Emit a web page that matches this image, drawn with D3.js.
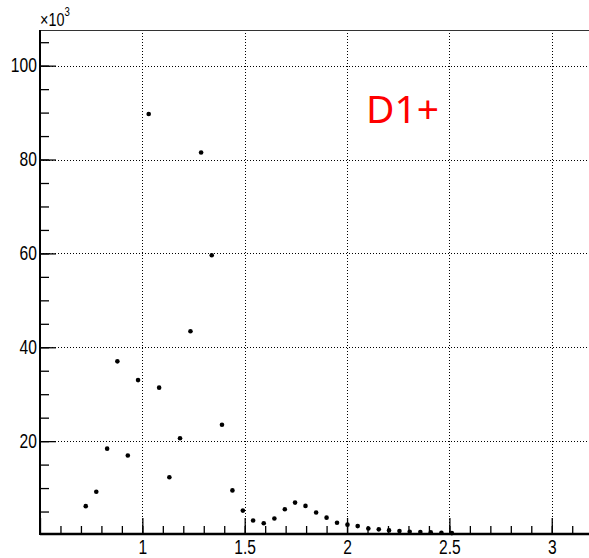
<!DOCTYPE html>
<html>
<head>
<meta charset="utf-8">
<script src="https://cdn.jsdelivr.net/npm/d3@7"></script>
<style>
body{margin:0;background:#fff;}
svg{display:block;}
</style>
</head>
<body>
<div id="char1" style="width:589px;height:558px;"></div>
<script>
// bin centres (x) and counts in units of 10^3 (y)
var datax=[0.7235,0.775,0.828,0.878,0.929,0.979,1.031,1.082,1.132,1.184,1.235,1.287,1.339,1.389,1.440,1.491,
           1.541,1.593,1.645,1.696,1.746,1.797,1.849,1.900,1.951,2.002,2.052,2.104,2.155,2.205,2.256,2.306,
           2.358,2.409,2.461,2.512];
var datay=[6.15,9.2,18.4,37.0,16.95,33.0,89.7,31.4,12.3,20.6,43.4,81.5,59.6,23.5,9.5,5.2,
           3.1,2.5,3.5,5.5,6.9,6.2,4.8,3.7,2.6,2.2,1.9,1.4,1.2,0.98,0.83,0.7,
           0.62,0.55,0.49,0.4];
var xticks=[0.5,1,1.5,2,2.5,3];
var yticks=[20,40,60,80,100];
var xminor=d3.range(6,32).map(function(d){return d/10;});
var yminor=d3.range(1,22).map(function(d){return d*5;});
var label="D1+";

var svgwidth=589, svgheight=558;
var mleft=40, mtop=30, mbottom=535;
var fnt="'Liberation Sans',Arial,sans-serif";

var svf=d3.select("#char1").append("svg")
          .attr("width",svgwidth)
          .attr("height",svgheight);

// x: 1 unit ~ 204.7px, axis starts at 0.5
var xscale=d3.scaleLinear().domain([0.5,3.2]).range([mleft,mleft+2.7*204.7]);
var yscale=d3.scaleLinear().domain([0,107.6]).range([mbottom,mtop]);

// grid
svf.append("g").selectAll("line").data(xticks.slice(1)).enter().append("line")
   .attr("x1",function(d){return Math.round(xscale(d))+0.5;})
   .attr("x2",function(d){return Math.round(xscale(d))+0.5;})
   .attr("y1",mtop).attr("y2",mbottom)
   .attr("stroke","#000").attr("stroke-dasharray","1,2");
svf.append("g").selectAll("line").data(yticks).enter().append("line")
   .attr("y1",function(d){return Math.round(yscale(d))+0.5;})
   .attr("y2",function(d){return Math.round(yscale(d))+0.5;})
   .attr("x1",mleft).attr("x2",svgwidth)
   .attr("stroke","#000").attr("stroke-dasharray","1,2");

// top frame
svf.append("line").attr("x1",mleft).attr("x2",svgwidth)
   .attr("y1",mtop+0.5).attr("y2",mtop+0.5)
   .attr("stroke","#333").attr("stroke-width",1);

// x axis
var xAxis=d3.axisBottom(xscale).tickValues(xticks).tickSize(-16).tickPadding(6)
            .tickFormat(function(d){return d===0.5?"":d3.format("")(d);});
var xMinor=d3.axisBottom(xscale).tickValues(xminor).tickSize(-8).tickFormat("");
var gx=svf.append("g").attr("transform","translate(0,"+(mbottom-1)+")").call(xAxis);
var gxm=svf.append("g").attr("transform","translate(0,"+(mbottom-1)+")").call(xMinor);

// y axis
var yAxis=d3.axisLeft(yscale).tickValues(yticks).tickSize(-16).tickPadding(4);
var yMinor=d3.axisLeft(yscale).tickValues(yminor).tickSize(-9).tickFormat("");
var gy=svf.append("g").attr("transform","translate("+mleft+",0)").call(yAxis);
var gym=svf.append("g").attr("transform","translate("+mleft+",0)").call(yMinor);

svf.selectAll(".domain").remove();
svf.append("line").attr("x1",mleft).attr("x2",svgwidth).attr("y1",mbottom-1).attr("y2",mbottom-1)
   .attr("stroke","#000").attr("stroke-width",2.5);
svf.append("line").attr("x1",mleft).attr("x2",mleft).attr("y1",mtop).attr("y2",mbottom)
   .attr("stroke","#000").attr("stroke-width",2);

svf.selectAll(".tick line").attr("stroke","#000").attr("stroke-width",1.3);
// labels are condensed horizontally in the original
svf.selectAll(".tick text")
   .style("font-family",fnt)
   .style("font-size","19.5px")
   .attr("transform","scale(0.8,1)")
   .attr("fill","#000");

// x10^3 exponent
var ex=svf.append("text").attr("transform","translate("+mleft+",26) scale(0.8,1)")
          .style("font-family",fnt)
          .style("font-size","18px");
ex.append("tspan").text("\u00d710");
ex.append("tspan").attr("dy",-10).style("font-size","12px").text("3");

// points
svf.append("g").selectAll("circle").data(datax).enter().append("circle")
   .attr("cx",function(d){return xscale(d);})
   .attr("cy",function(d,i){return yscale(datay[i]);})
   .attr("r",2.3)
   .attr("fill","#000");

// label
svf.append("text").attr("x",366).attr("y",123)
   .style("font-family","'Noto Sans','Open Sans',sans-serif")
   .style("font-size","39px")
   .attr("fill","#ff0000")
   .text(label);
</script>
</body>
</html>
